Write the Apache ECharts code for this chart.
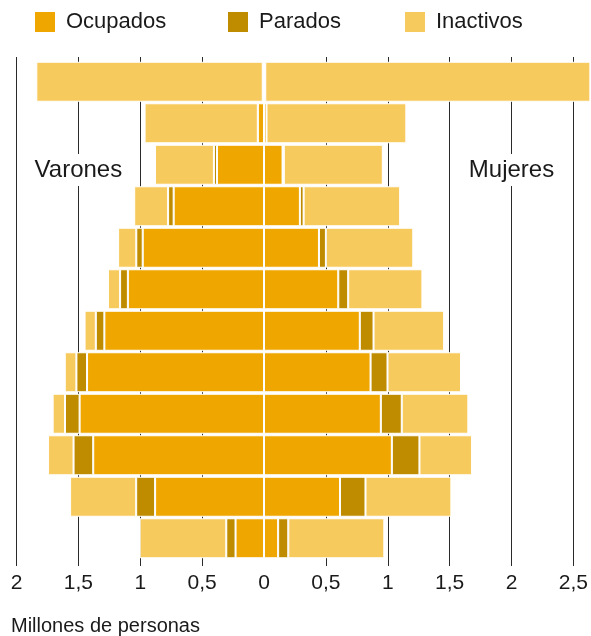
<!DOCTYPE html>
<html>
<head>
<meta charset="utf-8">
<script src="https://cdn.jsdelivr.net/npm/echarts@6/dist/echarts.min.js"></script>
<style>
  html, body { margin: 0; padding: 0; background: #fff; }
  #chart { width: 591px; height: 636px; }
</style>
</head>
<body>
<div id="chart"></div>
<script>
// grupos de edad, de arriba a abajo
const categories = ['70 y más', '65-69', '60-64', '55-59', '50-54', '45-49', '40-44', '35-39', '30-34', '25-29', '20-24', '16-19']

// varones (millones)
const menOcupados = [0.01, 0.05, 0.38, 0.73, 0.98, 1.10, 1.29, 1.43, 1.49, 1.38, 0.88, 0.23]
const menParados = [0, 0, 0.025, 0.045, 0.052, 0.063, 0.069, 0.086, 0.118, 0.159, 0.153, 0.075]
const menInactivos = [1.83, 0.915, 0.476, 0.274, 0.147, 0.098, 0.091, 0.094, 0.10, 0.206, 0.534, 0.70]

// mujeres (millones)
const womenOcupados = [0.01, 0.02, 0.15, 0.29, 0.444, 0.60, 0.774, 0.861, 0.944, 1.033, 0.614, 0.114]
const womenParados = [0, 0, 0.01, 0.03, 0.056, 0.08, 0.111, 0.137, 0.169, 0.223, 0.206, 0.082]
const womenInactivos = [2.75, 1.13, 0.80, 0.78, 0.706, 0.60, 0.57, 0.594, 0.538, 0.425, 0.694, 0.776]

const gridTicks = [-2, -1.5, -1, -0.5, 0.5, 1, 1.5, 2, 2.5]
const labelTicks = [-2, -1.5, -1, -0.5, 0, 0.5, 1, 1.5, 2, 2.5]

const colors = { Ocupados: '#EFA700', Parados: '#BF8C00', Inactivos: '#F7CA5E' }
const font = 'Liberation Sans'
const textColor = '#1a1a1a'

const chart = echarts.init(document.getElementById('chart'))

const makeSeries = (name, values, sign) => ({
  name,
  type: 'bar',
  stack: 'total',
  barWidth: 40,
  data: values.map(v => v * sign),
  itemStyle: { color: colors[name], borderColor: '#fff', borderWidth: 1 },
  emphasis: { disabled: true }
})

const makeLegend = (name, left) => ({
  data: [name],
  left,
  top: 10,
  padding: 0,
  icon: 'rect',
  itemWidth: 22,
  itemHeight: 22,
  textStyle: { fontFamily: font, fontSize: 22, color: textColor, padding: [0, 0, 0, 5] }
})

const series = [
  makeSeries('Ocupados', menOcupados, -1),
  makeSeries('Parados', menParados, -1),
  makeSeries('Inactivos', menInactivos, -1),
  makeSeries('Ocupados', womenOcupados, 1),
  makeSeries('Parados', womenParados, 1),
  makeSeries('Inactivos', womenInactivos, 1)
]

// separación blanca en el eje central
series[5].markLine = {
  silent: true,
  symbol: 'none',
  label: { show: false },
  lineStyle: { color: '#fff', width: 2, type: 'solid' },
  data: [{ xAxis: 0 }]
}

const option = {
  animation: false,
  title: {
    text: 'Millones de personas',
    left: 6,
    top: 611,
    textStyle: { fontFamily: font, fontSize: 20, fontWeight: 'normal', color: textColor }
  },
  legend: [
    makeLegend('Ocupados', 33),
    makeLegend('Parados', 226),
    makeLegend('Inactivos', 403)
  ],
  grid: { left: 16.5, right: 0, top: 61, bottom: 77 },
  xAxis: [
    {
      type: 'value',
      position: 'bottom',
      min: -2,
      max: 2.633,
      axisLine: { show: false },
      axisTick: { show: false },
      splitLine: { show: false },
      axisLabel: {
        customValues: labelTicks,
        margin: 14,
        fontFamily: font,
        fontSize: 21,
        color: textColor,
        formatter: v => String(Math.abs(v)).replace('.', ',')
      }
    },
    {
      type: 'value',
      position: 'top',
      offset: 4,
      min: -2,
      max: 2.633,
      axisLine: { show: false },
      axisLabel: { show: false },
      splitLine: { show: false },
      axisTick: {
        show: true,
        inside: true,
        length: 509,
        customValues: gridTicks,
        lineStyle: { color: '#2a2a2a', width: 1 }
      }
    }
  ],
  yAxis: {
    type: 'category',
    data: categories,
    inverse: true,
    axisLine: { show: false },
    axisTick: { show: false },
    axisLabel: { show: false }
  },
  series
}

chart.setOption(option)

// etiquetas Varones / Mujeres sobre las líneas de 1,5 y 2
const yLabel = 170
const sideLabel = (text, value) => ({
  type: 'text',
  z: 100,
  x: chart.convertToPixel({ xAxisIndex: 0 }, value),
  y: yLabel,
  style: {
    text,
    align: 'center',
    verticalAlign: 'middle',
    font: '24px "Liberation Sans"',
    fill: textColor,
    backgroundColor: '#fff',
    padding: [4, 3]
  }
})

chart.setOption({
  graphic: [sideLabel('Varones', -1.5), sideLabel('Mujeres', 2)]
})
</script>
</body>
</html>
